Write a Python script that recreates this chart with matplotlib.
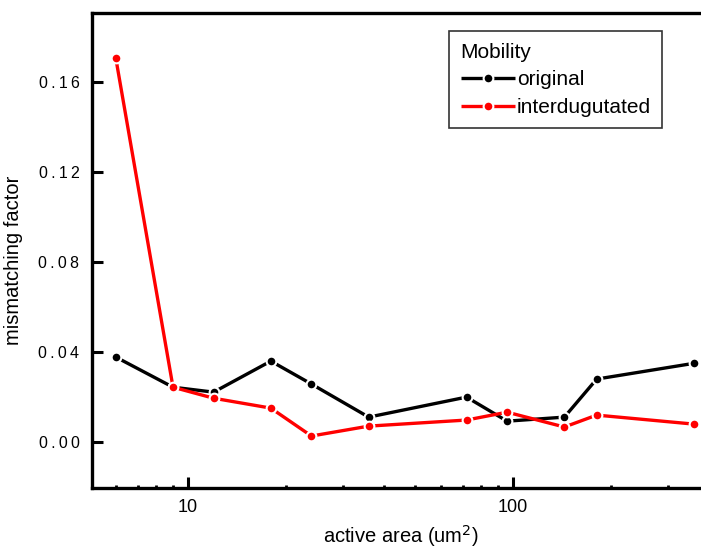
import matplotlib
matplotlib.use("Agg")
import matplotlib.pyplot as plt
from matplotlib.ticker import LogLocator, FixedLocator, NullFormatter

plt.rcParams['font.family'] = ['Liberation Sans', 'DejaVu Sans']

# active area (um^2) and mismatching factor for both layouts
area = [6, 9, 12, 18, 24, 36, 72, 96, 144, 181, 360]
original = [0.0378, 0.0244, 0.0222, 0.0360, 0.0258, 0.0111, 0.0200, 0.0093, 0.0111, 0.0280, 0.0350]
interdigitated = [0.1707, 0.0244, 0.0195, 0.0151, 0.0027, 0.0071, 0.0098, 0.0133, 0.0067, 0.0120, 0.0080]

series_labels = ["original", "interdugutated"]
legend_title = "Mobility"
y_ticks = [0.00, 0.04, 0.08, 0.12, 0.16]
x_ticks = [10, 100]

fig = plt.figure(figsize=(7.01, 5.52), dpi=100)
ax = fig.add_axes([92 / 701, 64 / 552, 618 / 701, 475 / 552])

line_kw = dict(lw=2.4, marker='o', ms=7, mew=1.5, mec='white', solid_capstyle='butt')
ax.plot(area, original, color='black', label=series_labels[0], **line_kw)
ax.plot(area, interdigitated, color='#ff0000', label=series_labels[1], **line_kw)

ax.set_xscale('log')
ax.set_xlim(5.07, 404)
ax.set_ylim(-0.0204, 0.1907)

ax.xaxis.set_major_locator(FixedLocator(x_ticks))
ax.xaxis.set_minor_locator(LogLocator(base=10, subs=range(2, 10)))
ax.xaxis.set_minor_formatter(NullFormatter())
ax.set_xticklabels([str(t) for t in x_ticks])
ax.set_yticks(y_ticks)
ax.set_yticklabels([f"{t:.2f}".replace("", " ").strip().replace(" ", "\u2009") for t in y_ticks])

ax.tick_params(which='major', direction='in', length=8, width=2.2, labelsize=11.5,
               top=False, right=False, pad=9)
ax.tick_params(axis='x', which='major', labelsize=13, pad=8)
ax.tick_params(which='minor', direction='in', length=2.5, width=2.0, top=False, right=False)

for side in ['left', 'bottom', 'top']:
    ax.spines[side].set_linewidth(2.4)
ax.spines['right'].set_visible(False)

ax.set_xlabel("active area (um$^2$)", fontsize=14.5, labelpad=5)
ax.set_ylabel("mismatching factor", fontsize=14.5)
ax.yaxis.set_label_coords(-0.112, 0.48)

leg = ax.legend(title=legend_title, loc='upper left', bbox_to_anchor=(0.578, 0.962),
                fontsize=15, title_fontsize=15, frameon=True, fancybox=False,
                edgecolor='black', handlelength=2.6, handletextpad=0.1,
                borderpad=0.55, labelspacing=0.42, borderaxespad=0)
leg._legend_box.align = "left"
leg.get_frame().set_linewidth(1.2)

fig.savefig("out.png", dpi=100)
